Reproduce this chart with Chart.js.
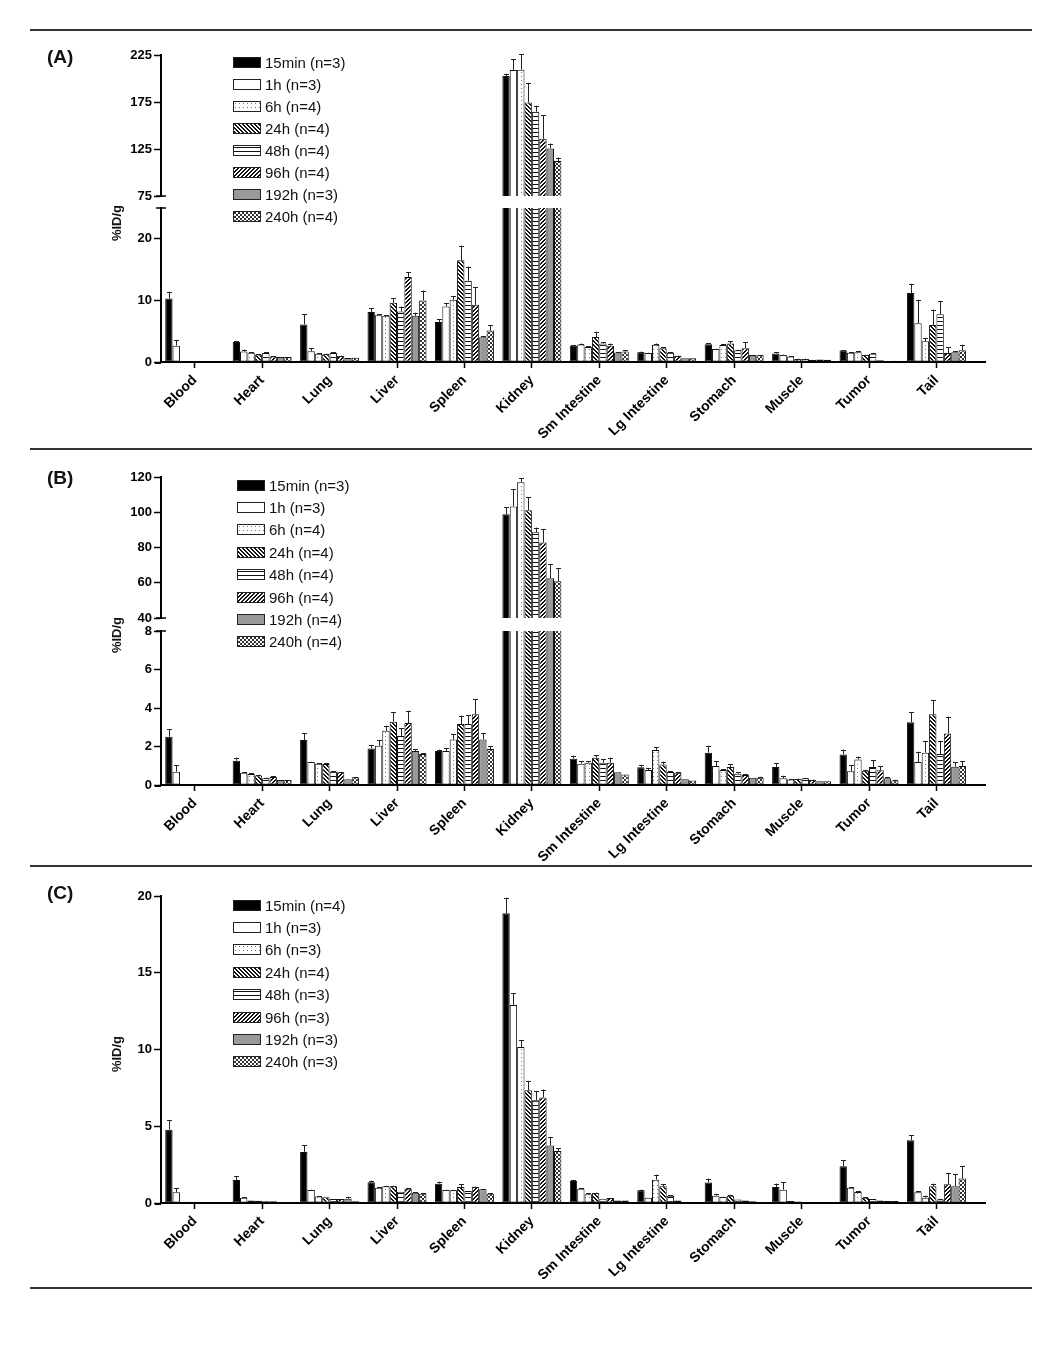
<!DOCTYPE html>
<html>
<head>
<meta charset="utf-8">
<script src="https://cdn.jsdelivr.net/npm/chart.js@4.4.1/dist/chart.umd.min.js"></script>
<style>
  body { margin: 0; background: #fff; font-family: "Liberation Sans", Arial, sans-serif; color: #111; }
  #page { position: relative; width: 1050px; height: 1347px; overflow: hidden; }
  .rule { position: absolute; left: 30px; width: 1002px; height: 2px; background: #333; }
  .plabel { position: absolute; left: 47px; font-weight: bold; font-size: 19px; line-height: 20px; }
  .ytitle { position: absolute; font-weight: bold; font-size: 13px; white-space: nowrap;
            transform: translate(-50%, -50%) rotate(-90deg); }
  .legend { position: absolute; font-size: 15px; }
  .legend div { display: flex; align-items: center; }
  .legend canvas { border: 1px solid #222; margin-right: 4px; }
  canvas.chart { position: absolute; left: 0; }
</style>
</head>
<body>
<div id="page"></div>
<script>
const organs = ['Blood', 'Heart', 'Lung', 'Liver', 'Spleen', 'Kidney', 'Sm Intestine',
  'Lg Intestine', 'Stomach', 'Muscle', 'Tumor', 'Tail'];
const timePoints = ['15min', '1h', '6h', '24h', '48h', '96h', '192h', '240h'];

// animals per group
const nA = [3, 3, 4, 4, 4, 4, 3, 4];
const nB = [3, 3, 4, 4, 4, 4, 4, 4];
const nC = [4, 3, 3, 4, 3, 3, 3, 3];

// rows = time points, columns = organs (%ID/g)
const meanA = [
  [10.3, 3.25, 6.1, 8.1, 6.5, 202.6, 2.65, 1.6, 2.9, 1.4, 1.85, 11.2],
  [2.65, 1.7, 1.75, 7.6, 9.0, 209, 2.85, 1.45, 2.1, 1.15, 1.5, 6.3],
  [0.05, 1.5, 1.35, 7.5, 10.1, 209.4, 2.45, 2.8, 2.75, 0.9, 1.6, 3.35],
  [0, 1.2, 1.25, 9.6, 16.5, 174.5, 4.05, 2.25, 3.0, 0.5, 1.15, 6.0],
  [0, 1.45, 1.45, 8.2, 13.2, 164.6, 3.0, 1.55, 1.9, 0.5, 1.35, 7.75],
  [0, 0.9, 1.0, 13.8, 9.3, 136, 2.65, 1.0, 2.25, 0.35, 0.3, 1.45],
  [0, 0.8, 0.65, 7.5, 4.0, 125.5, 1.55, 0.6, 1.15, 0.4, 0.05, 1.6],
  [0, 0.8, 0.7, 10.0, 5.1, 112.3, 1.7, 0.6, 1.1, 0.35, 0.2, 1.9]
];
const semA = [
  [1.1, 0.2, 1.7, 0.6, 0.5, 2.4, 0.1, 0.1, 0.15, 0.2, 0.1, 1.5],
  [0.95, 0.3, 0.45, 0.2, 0.6, 11.7, 0.15, 0.05, 0.05, 0.05, 0.05, 3.8],
  [0, 0.1, 0.1, 0.1, 0.6, 16.6, 0.1, 0.2, 0.15, 0.05, 0.15, 0.55],
  [0, 0.1, 0.1, 0.8, 2.4, 21, 0.85, 0.15, 0.35, 0.05, 0.05, 2.5],
  [0, 0.1, 0.1, 0.8, 2.3, 6.4, 0.2, 0.05, 0.1, 0.05, 0.15, 2.15],
  [0, 0.05, 0.05, 0.8, 2.9, 24.7, 0.35, 0.05, 1.0, 0, 0, 1.0],
  [0, 0, 0, 0.5, 0.2, 5.3, 0.1, 0, 0, 0, 0, 0.2],
  [0, 0, 0, 1.6, 0.9, 3.6, 0.2, 0, 0.05, 0, 0, 0.9]
];

const meanB = [
  [2.51, 1.26, 2.34, 1.9, 1.77, 98.9, 1.37, 0.92, 1.68, 0.94, 1.59, 3.26],
  [0.69, 0.64, 1.19, 2.04, 1.77, 103.3, 1.11, 0.78, 0.99, 0.35, 0.71, 1.19],
  [0.02, 0.57, 1.11, 2.82, 2.37, 117, 1.16, 1.82, 0.78, 0.29, 1.33, 1.68],
  [0, 0.5, 1.09, 3.29, 3.17, 101.2, 1.42, 1.07, 0.94, 0.31, 0.74, 3.67],
  [0, 0.35, 0.69, 2.55, 3.17, 88.6, 1.16, 0.68, 0.59, 0.35, 0.94, 1.61],
  [0, 0.42, 0.66, 3.22, 3.67, 82.8, 1.16, 0.64, 0.52, 0.26, 0.76, 2.68],
  [0, 0.26, 0.3, 1.77, 2.37, 62.6, 0.66, 0.3, 0.38, 0.19, 0.35, 0.95],
  [0, 0.26, 0.4, 1.61, 1.87, 60.9, 0.55, 0.23, 0.38, 0.19, 0.24, 0.99]
];
const semB = [
  [0.38, 0.16, 0.34, 0.18, 0.07, 3.8, 0.15, 0.12, 0.36, 0.19, 0.25, 0.53],
  [0.33, 0.03, 0.02, 0.3, 0.13, 9.9, 0.12, 0.1, 0.26, 0.13, 0.31, 0.54],
  [0, 0.03, 0.03, 0.26, 0.26, 2.4, 0.07, 0.14, 0.03, 0.02, 0.14, 0.61],
  [0, 0.03, 0.05, 0.48, 0.43, 7.4, 0.14, 0.14, 0.15, 0.02, 0.05, 0.75],
  [0, 0.03, 0.02, 0.39, 0.45, 2.7, 0.17, 0.03, 0.07, 0.02, 0.34, 0.68],
  [0, 0.03, 0.02, 0.64, 0.78, 7.7, 0.26, 0.04, 0.03, 0.02, 0.23, 0.87],
  [0, 0, 0, 0.1, 0.31, 8.0, 0, 0, 0, 0, 0.07, 0.23],
  [0, 0, 0.02, 0.05, 0.16, 7.2, 0, 0, 0.05, 0, 0.03, 0.26]
];

const meanC = [
  [4.78, 1.5, 3.33, 1.35, 1.26, 18.87, 1.43, 0.83, 1.33, 1.04, 2.39, 4.09],
  [0.7, 0.35, 0.85, 1.0, 0.85, 12.9, 0.93, 0.35, 0.48, 0.87, 1.0, 0.7],
  [0, 0.17, 0.43, 1.09, 0.83, 10.17, 0.57, 1.52, 0.39, 0.13, 0.72, 0.35],
  [0.08, 0.15, 0.37, 1.09, 1.04, 7.35, 0.65, 1.09, 0.48, 0.09, 0.35, 1.09],
  [0, 0.11, 0.26, 0.74, 0.78, 6.7, 0.28, 0.48, 0.22, 0.04, 0.26, 0.22],
  [0, 0.11, 0.26, 0.93, 1.04, 6.87, 0.33, 0.17, 0.17, 0.04, 0.17, 1.22],
  [0, 0.07, 0.28, 0.67, 0.89, 3.74, 0.17, 0.04, 0.11, 0.02, 0.13, 1.09],
  [0, 0.07, 0.11, 0.61, 0.61, 3.39, 0.17, 0.04, 0.07, 0.02, 0.13, 1.59]
];
const semC = [
  [0.61, 0.24, 0.45, 0.11, 0.13, 1.02, 0.07, 0.04, 0.26, 0.22, 0.39, 0.32],
  [0.26, 0.02, 0.02, 0.03, 0.02, 0.75, 0.05, 0, 0.12, 0.5, 0.04, 0.05],
  [0, 0, 0.02, 0.03, 0.03, 0.43, 0.05, 0.33, 0.02, 0, 0.05, 0.13],
  [0, 0, 0, 0.03, 0.18, 0.61, 0.03, 0.13, 0.05, 0, 0.03, 0.17],
  [0, 0, 0, 0, 0, 0.58, 0, 0.04, 0, 0, 0, 0.05],
  [0, 0, 0, 0.03, 0.03, 0.52, 0, 0, 0, 0, 0, 0.74],
  [0, 0, 0.08, 0.03, 0.03, 0.56, 0, 0, 0, 0, 0, 0.78],
  [0, 0, 0, 0.03, 0.03, 0.2, 0, 0, 0, 0, 0, 0.82]
];

// y tick labels for each axis segment
const ticksAUpper = [75, 125, 175, 225];
const ticksALower = [0, 10, 20];
const ticksBUpper = [40, 60, 80, 100, 120];
const ticksBLower = [0, 2, 4, 6, 8];
const ticksC = [0, 5, 10, 15, 20];

const FONT = '"Liberation Sans", Arial, sans-serif';
Chart.defaults.font.family = FONT;
Chart.defaults.color = '#000';

function pattern(size, draw) {
  const c = document.createElement('canvas');
  c.width = c.height = size;
  const g = c.getContext('2d');
  g.fillStyle = '#fff';
  g.fillRect(0, 0, size, size);
  g.fillStyle = '#111';
  draw(g, size);
  return g.createPattern(c, 'repeat');
}

const fills = [
  '#000',
  '#fff',
  pattern(4, g => { g.fillStyle = '#777'; g.fillRect(1, 1, 1, 1); }),
  pattern(4, (g, s) => { for (let i = 0; i < s; i++) { g.fillRect(i, i, 1, 1); g.fillRect((i + 1) % s, i, 1, 1); } }),
  pattern(4, (g, s) => g.fillRect(0, 1, s, 1)),
  pattern(4, (g, s) => { for (let i = 0; i < s; i++) { g.fillRect(s - 1 - i, i, 1, 1); g.fillRect((s - i) % s, i, 1, 1); } }),
  '#999',
  pattern(4, g => { g.fillStyle = '#333'; g.fillRect(0, 0, 2, 2); g.fillRect(2, 2, 2, 2); })
];

const errorBars = {
  id: 'errorBars',
  afterDatasetsDraw(chart) {
    const ctx = chart.ctx, y = chart.scales.y;
    ctx.save();
    ctx.strokeStyle = '#222';
    ctx.lineWidth = 1;
    chart.data.datasets.forEach((ds, i) => {
      chart.getDatasetMeta(i).data.forEach((bar, j) => {
        const v = ds.data[j].y, e = ds.sem[j];
        if (!e || v > y.max || v < y.min) return;
        const top = y.getPixelForValue(v + e);
        const x = Math.round(bar.x) + 0.5;
        ctx.beginPath();
        ctx.moveTo(x, bar.y);
        ctx.lineTo(x, top);
        ctx.moveTo(x - 2.5, Math.round(top) + 0.5);
        ctx.lineTo(x + 2.5, Math.round(top) + 0.5);
        ctx.stroke();
      });
    });
    ctx.restore();
  }
};

// short caps where the y axis is broken, and the x axis stub left of the y axis
const axisBreak = {
  id: 'axisBreak',
  afterDraw(chart, args, opts) {
    const { ctx, chartArea: a } = chart;
    ctx.save();
    ctx.strokeStyle = '#000';
    if (opts.at) {
      const yy = opts.at === 'top' ? a.top : a.bottom;
      ctx.lineWidth = 1.5;
      ctx.beginPath();
      ctx.moveTo(a.left - 5, yy);
      ctx.lineTo(a.left + 5, yy);
      ctx.stroke();
    }
    if (chart.options.scales.x.display) {
      ctx.lineWidth = 2;
      ctx.beginPath();
      ctx.moveTo(a.left - 6, a.bottom + 1);
      ctx.lineTo(a.left, a.bottom + 1);
      ctx.stroke();
    }
    ctx.restore();
  }
};

const panels = [
  { name: '(A)', means: meanA, sems: semA, n: nA, labelTop: 47, titleY: 223,
    legend: { x: 233, y: 51, row: 22.1 },
    segs: [
      { top: 55, bottom: 196, min: 75, max: 225, ticks: ticksAUpper, xAxis: false, brk: 'bottom' },
      { top: 208, bottom: 362, min: 0, max: 25, ticks: ticksALower, xAxis: true, brk: 'top' }
    ] },
  { name: '(B)', means: meanB, sems: semB, n: nB, labelTop: 468, titleY: 635,
    legend: { x: 237, y: 474, row: 22.4 },
    segs: [
      { top: 477, bottom: 618, min: 40, max: 120, ticks: ticksBUpper, xAxis: false, brk: 'bottom' },
      { top: 631, bottom: 785, min: 0, max: 8, ticks: ticksBLower, xAxis: true, brk: 'top' }
    ] },
  { name: '(C)', means: meanC, sems: semC, n: nC, labelTop: 883, titleY: 1054,
    legend: { x: 233, y: 894, row: 22.4 },
    segs: [
      { top: 896, bottom: 1203, min: 0, max: 20, ticks: ticksC, xAxis: true, brk: null }
    ] }
];

const page = document.getElementById('page');

[30, 449, 866, 1288].forEach(y => {
  const r = document.createElement('div');
  r.className = 'rule';
  r.style.top = (y - 1) + 'px';
  page.appendChild(r);
});

function makeSegment(p, s) {
  const padTop = 12, xh = s.xAxis ? 84 : 0, padBottom = s.xAxis ? 0 : 12;
  const cv = document.createElement('canvas');
  cv.className = 'chart';
  cv.width = 1050;
  cv.height = (s.bottom - s.top) + padTop + xh + padBottom;
  cv.style.top = (s.top - padTop) + 'px';
  page.appendChild(cv);

  new Chart(cv, {
    type: 'bar',
    data: {
      datasets: timePoints.map((t, i) => ({
        label: t,
        data: p.means[i].map((v, j) => ({ x: j, y: v })),
        sem: p.sems[i],
        backgroundColor: fills[i],
        borderColor: '#111',
        borderWidth: 1,
        borderSkipped: s.xAxis ? false : 'start',
        categoryPercentage: 0.875,
        barPercentage: 1
      }))
    },
    options: {
      responsive: false,
      animation: false,
      devicePixelRatio: 1,
      layout: { padding: { left: 0, right: 65, top: padTop, bottom: padBottom } },
      plugins: {
        legend: { display: false },
        tooltip: { enabled: false },
        axisBreak: { at: s.brk }
      },
      scales: {
        x: {
          type: 'linear', min: -0.5, max: 11.72, offset: false, display: s.xAxis,
          afterBuildTicks: a => { a.ticks = organs.map((_, j) => ({ value: j })); },
          afterFit: a => { a.height = xh; },
          grid: { drawOnChartArea: false, offset: false, tickLength: 6, tickColor: '#000', tickWidth: 1.5 },
          border: { color: '#000', width: 2 },
          ticks: {
            autoSkip: false, minRotation: 45, maxRotation: 45, padding: 4,
            font: { size: 14, weight: 'bold' },
            callback: v => organs[v]
          }
        },
        y: {
          min: s.min, max: s.max,
          afterBuildTicks: a => { a.ticks = s.ticks.map(v => ({ value: v })); },
          afterFit: a => { a.width = 161; },
          grid: { drawOnChartArea: false, tickLength: 7, tickColor: '#000', tickWidth: 1.5 },
          border: { color: '#000', width: 2 },
          ticks: { padding: 2, font: { size: 13, weight: 'bold' } }
        }
      }
    },
    plugins: [errorBars, axisBreak]
  });
}

function addLegend(p) {
  const box = document.createElement('div');
  box.className = 'legend';
  box.style.left = p.legend.x + 'px';
  box.style.top = p.legend.y + 'px';
  timePoints.forEach((t, i) => {
    const row = document.createElement('div');
    row.style.height = p.legend.row + 'px';
    const sw = document.createElement('canvas');
    sw.width = 26;
    sw.height = 9;
    const g = sw.getContext('2d');
    g.fillStyle = fills[i];
    g.fillRect(0, 0, 26, 9);
    const span = document.createElement('span');
    span.textContent = `${t} (n=${p.n[i]})`;
    row.append(sw, span);
    box.appendChild(row);
  });
  page.appendChild(box);
}

panels.forEach(p => {
  p.segs.forEach(s => makeSegment(p, s));
  addLegend(p);

  const lab = document.createElement('div');
  lab.className = 'plabel';
  lab.style.top = p.labelTop + 'px';
  lab.textContent = p.name;
  page.appendChild(lab);

  const yt = document.createElement('div');
  yt.className = 'ytitle';
  yt.style.left = '116px';
  yt.style.top = p.titleY + 'px';
  yt.textContent = '%ID/g';
  page.appendChild(yt);
});
</script>
</body>
</html>
